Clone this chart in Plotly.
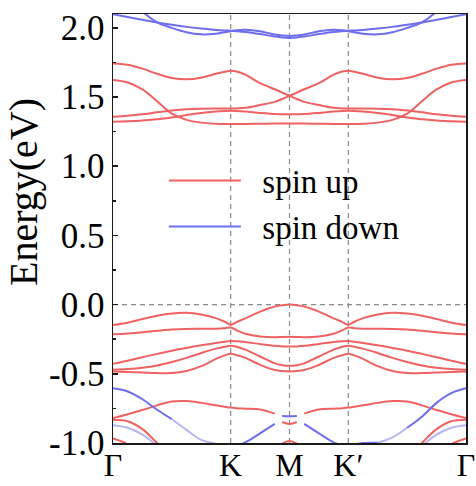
import plotly.graph_objects as go

# ---------------- data ----------------
k_path = [0, 0.25, 0.5, 0.75, 1.0, 1.25, 1.5, 1.75, 1.9, 2.0, 2.1, 2.25, 2.5, 2.75, 2.875,
          3.0, 3.125, 3.25, 3.5, 3.75, 3.9, 4.0, 4.1, 4.25, 4.5, 4.75, 5.0, 5.25, 5.5, 5.75, 6.0]
k_labels_pos = [0, 2, 3, 4, 6]
k_labels = ["Γ", "K", "M", "K′", "Γ"]
dashed_k = [2, 3, 4]
y_ticks = [-1.0, -0.5, 0.0, 0.5, 1.0, 1.5, 2.0]
y_ticktext = ["-1.0", "-0.5", "0.0", "0.5", "1.0", "1.5", "2.0"]

# spin-up conduction bands
c1 = [1.743, 1.733, 1.705, 1.668, 1.638, 1.628, 1.640, 1.668, 1.683, 1.690, 1.685, 1.662, 1.600, 1.556, 1.532,
      1.509, 1.486, 1.465, 1.442, 1.422, 1.418, 1.417, 1.417, 1.417, 1.416, 1.412, 1.403, 1.390, 1.375, 1.365, 1.358]
c2 = [1.623, 1.605, 1.555, 1.470, 1.380, 1.335, 1.315, 1.307, 1.305, 1.305, 1.305, 1.306, 1.307, 1.308, 1.309,
      1.309, 1.309, 1.308, 1.307, 1.306, 1.305, 1.305, 1.305, 1.307, 1.315, 1.335, 1.380, 1.470, 1.555, 1.605, 1.623]
c3 = [1.358, 1.365, 1.375, 1.390, 1.403, 1.412, 1.416, 1.417, 1.417, 1.417, 1.418, 1.422, 1.442, 1.465, 1.486,
      1.509, 1.532, 1.556, 1.600, 1.662, 1.685, 1.690, 1.683, 1.668, 1.640, 1.628, 1.638, 1.668, 1.705, 1.733, 1.743]
c4 = [1.322, 1.325, 1.330, 1.340, 1.352, 1.370, 1.385, 1.395, 1.399, 1.400, 1.399, 1.395, 1.385, 1.377, 1.376,
      1.375, 1.376, 1.377, 1.385, 1.395, 1.399, 1.400, 1.399, 1.395, 1.385, 1.370, 1.352, 1.340, 1.330, 1.325, 1.322]

# spin-up valence bands
v1 = [-0.147, -0.131, -0.104, -0.080, -0.064, -0.059, -0.072, -0.098, -0.124, -0.146, -0.126, -0.099, -0.051, -0.014, -0.004,
      0.000, -0.004, -0.014, -0.051, -0.099, -0.126, -0.146, -0.124, -0.098, -0.072, -0.059, -0.064, -0.080, -0.104, -0.131, -0.147]
v2 = [-0.215, -0.209, -0.199, -0.189, -0.180, -0.176, -0.175, -0.174, -0.170, -0.165, -0.185, -0.210, -0.230, -0.236, -0.234,
      -0.232, -0.234, -0.236, -0.230, -0.210, -0.185, -0.165, -0.170, -0.174, -0.175, -0.176, -0.180, -0.189, -0.199, -0.209, -0.215]
v3 = [-0.428, -0.405, -0.380, -0.356, -0.333, -0.313, -0.294, -0.277, -0.268, -0.263, -0.264, -0.270, -0.285, -0.298, -0.302,
      -0.303, -0.302, -0.298, -0.285, -0.270, -0.264, -0.263, -0.268, -0.277, -0.294, -0.313, -0.333, -0.356, -0.380, -0.405, -0.428]
v4 = [-0.471, -0.466, -0.456, -0.440, -0.415, -0.385, -0.350, -0.318, -0.304, -0.298, -0.304, -0.325, -0.375, -0.425, -0.438,
      -0.442, -0.438, -0.425, -0.375, -0.325, -0.304, -0.298, -0.304, -0.318, -0.350, -0.385, -0.415, -0.440, -0.456, -0.466, -0.471]
v5 = [-0.483, -0.487, -0.491, -0.495, -0.495, -0.480, -0.445, -0.392, -0.367, -0.355, -0.365, -0.385, -0.435, -0.472, -0.480,
      -0.483, -0.480, -0.472, -0.435, -0.385, -0.365, -0.355, -0.367, -0.392, -0.445, -0.480, -0.495, -0.495, -0.491, -0.487, -0.483]

# deeper bands (mixed spin character)
u_band = [-0.820, -0.792, -0.762, -0.728, -0.700, -0.697, -0.710, -0.728, -0.738, -0.744, -0.748, -0.752, -0.758, -0.788, -0.804,
          -0.807, -0.804, -0.788, -0.758, -0.752, -0.748, -0.744, -0.738, -0.728, -0.710, -0.697, -0.700, -0.728, -0.762, -0.792, -0.820]
u_spin = "rrrrrrrrrrrrrrbbbrrrrrrrrrrrrrr"
l_band = [-0.605, -0.628, -0.684, -0.760, -0.828, -0.905, -0.978, -1.005, -1.018, -1.022, -1.018, -0.995, -0.930, -0.862, -0.848,
          -0.862, -0.848, -0.862, -0.930, -0.995, -1.018, -1.022, -1.010, -1.000, -0.998, -0.960, -0.890, -0.810, -0.710, -0.640, -0.605]
l_spin = "bbbblllbbbbbbbrrrbbbbbbbllbbbbb"
r2 = [-0.832, -0.843, -0.900, -1.000, -1.100, None, None, None, None, None, None, None, None, None, None,
      None, None, None, None, None, None, None, None, None, None, None, -1.100, -1.000, -0.900, -0.843, -0.832]
b2 = [-0.872, -0.890, -0.940, -1.020, -1.100, None, None, None, None, None, None, None, None, None, None,
      None, None, None, None, None, None, None, None, None, None, None, -1.100, -1.020, -0.940, -0.890, -0.872]
r3 = [-0.968, -1.010, -1.100, None, None, None, None, None, None, None, None, None, None, None, None,
      None, None, None, None, None, None, None, None, None, None, None, None, None, -1.100, -1.010, -0.968]
r4 = [None, None, None, None, None, None, None, None, None, None, None, None, None, -1.050, -1.005,
      -0.985, -1.005, -1.050, None, None, None, None, None, None, None, None, None, None, None, None, None]

# spin-down conduction bands (top)
t1 = [2.098, 2.078, 2.058, 2.038, 2.022, 2.007, 1.995, 1.985, 1.981, 1.979, 1.976, 1.970, 1.955, 1.937, 1.930,
      1.927, 1.930, 1.937, 1.955, 1.970, 1.976, 1.979, 1.981, 1.985, 1.995, 2.007, 2.022, 2.038, 2.058, 2.078, 2.098]
t2 = [2.350, 2.260, 2.120, 2.040, 2.000, 1.968, 1.953, 1.958, 1.968, 1.976, 1.982, 1.986, 1.975, 1.952, 1.945,
      1.941, 1.945, 1.952, 1.975, 1.986, 1.982, 1.976, 1.968, 1.958, 1.953, 1.968, 2.000, 2.040, 2.120, 2.260, 2.350]

bands = [
    (c1, "r"), (c2, "r"), (c3, "r"), (c4, "r"),
    (v1, "r"), (v2, "r"), (v3, "r"), (v4, "r"), (v5, "r"),
    (r2, "r"), (r3, "r"), (r4, "r"), (b2, "l"),
    (u_band, u_spin), (l_band, l_spin),
    (t1, "b"), (t2, "b"),
]

# ---------------- styling ----------------
COL = {"r": "#EF6262", "b": "#6D6DEE", "l": "#B6B6F3"}
FONT = "Liberation Serif, Times New Roman, serif"


def split_pieces(ks, es, spin):
    if len(spin) == 1:
        spin = spin * len(ks)
    out, cur = [], None
    for i, (kv, ev) in enumerate(zip(ks, es)):
        if ev is None:
            if cur:
                out.append(cur)
            cur = None
            continue
        c = spin[i]
        if cur is None:
            cur = [c, [kv], [ev]]
        elif c == cur[0]:
            cur[1].append(kv)
            cur[2].append(ev)
        else:
            if {c, cur[0]} != {"r", "b"}:
                cur[1].append(kv)
                cur[2].append(ev)
            out.append(cur)
            cur = [c, [kv], [ev]]
    if cur:
        out.append(cur)
    return out


fig = go.Figure()
shown = set()
for es, spin in bands:
    for c, xs, ys in split_pieces(k_path, es, spin):
        name = None
        show = False
        if c == "r" and "r" not in shown:
            name, show = "\u00a0\u00a0spin up", True
            shown.add("r")
        elif c == "b" and "b" not in shown:
            name, show = "\u00a0\u00a0spin down", True
            shown.add("b")
        fig.add_trace(go.Scatter(
            x=xs, y=ys, mode="lines",
            line=dict(color=COL[c], width=2, shape="spline", smoothing=1.0),
            name=name, showlegend=show,
            legendrank=1 if c == "r" else 2,
            hoverinfo="skip",
        ))

shapes = []
for kv in dashed_k:
    shapes.append(dict(type="line", xref="x", yref="paper", x0=kv, x1=kv, y0=0, y1=1,
                       line=dict(color="#8a8a8a", width=1.2, dash="5px,4px"), layer="below"))
shapes.append(dict(type="line", xref="paper", yref="y", x0=0, x1=1, y0=0, y1=0,
                   line=dict(color="#8a8a8a", width=1.2, dash="5px,4px"), layer="below"))

fig.update_layout(
    width=476, height=486,
    margin=dict(l=113, r=10, t=14, b=43, autoexpand=False),
    paper_bgcolor="white", plot_bgcolor="white",
    shapes=shapes,
    showlegend=True,
    hovermode=False,
    legend=dict(x=0.144, xanchor="left", y=0.677, yanchor="top",
                bgcolor="rgba(0,0,0,0)", font=dict(family=FONT, size=33, color="black"),
                itemwidth=72, traceorder="normal"),
    annotations=[dict(text="Energy(eV)", textangle=-90, xref="paper", yref="paper",
                      x=-0.255, y=0.585, xanchor="center", yanchor="middle", showarrow=False,
                      font=dict(family=FONT, size=40, color="black"))],
)
fig.update_xaxes(range=[0, 6], tickmode="array", tickvals=k_labels_pos, ticktext=k_labels,
                 automargin=False, ticklabelstandoff=-7,
                 showgrid=False, zeroline=False, showline=True, mirror=True,
                 linecolor="#1a1a1a", linewidth=1.5, ticks="",
                 tickfont=dict(family=FONT, size=32, color="black"))
fig.update_yaxes(range=[-1.0, 2.1], tickmode="array", tickvals=y_ticks, ticktext=y_ticktext,
                 automargin=False,
                 showgrid=False, zeroline=False, showline=True, mirror=True,
                 linecolor="#1a1a1a", linewidth=1.5, ticks="inside", ticklen=5, tickwidth=1.5,
                 tickcolor="#1a1a1a",
                 minor=dict(ticks="inside", ticklen=3, tickwidth=1.5, tickcolor="#1a1a1a",
                            tickmode="linear", tick0=0, dtick=0.25),
                 tickfont=dict(family=FONT, size=35, color="black"))

fig.write_html("out.html",
               config={"displayModeBar": False, "staticPlot": True},
               post_script="document.body.style.margin='0px';document.body.style.overflow='hidden';")
